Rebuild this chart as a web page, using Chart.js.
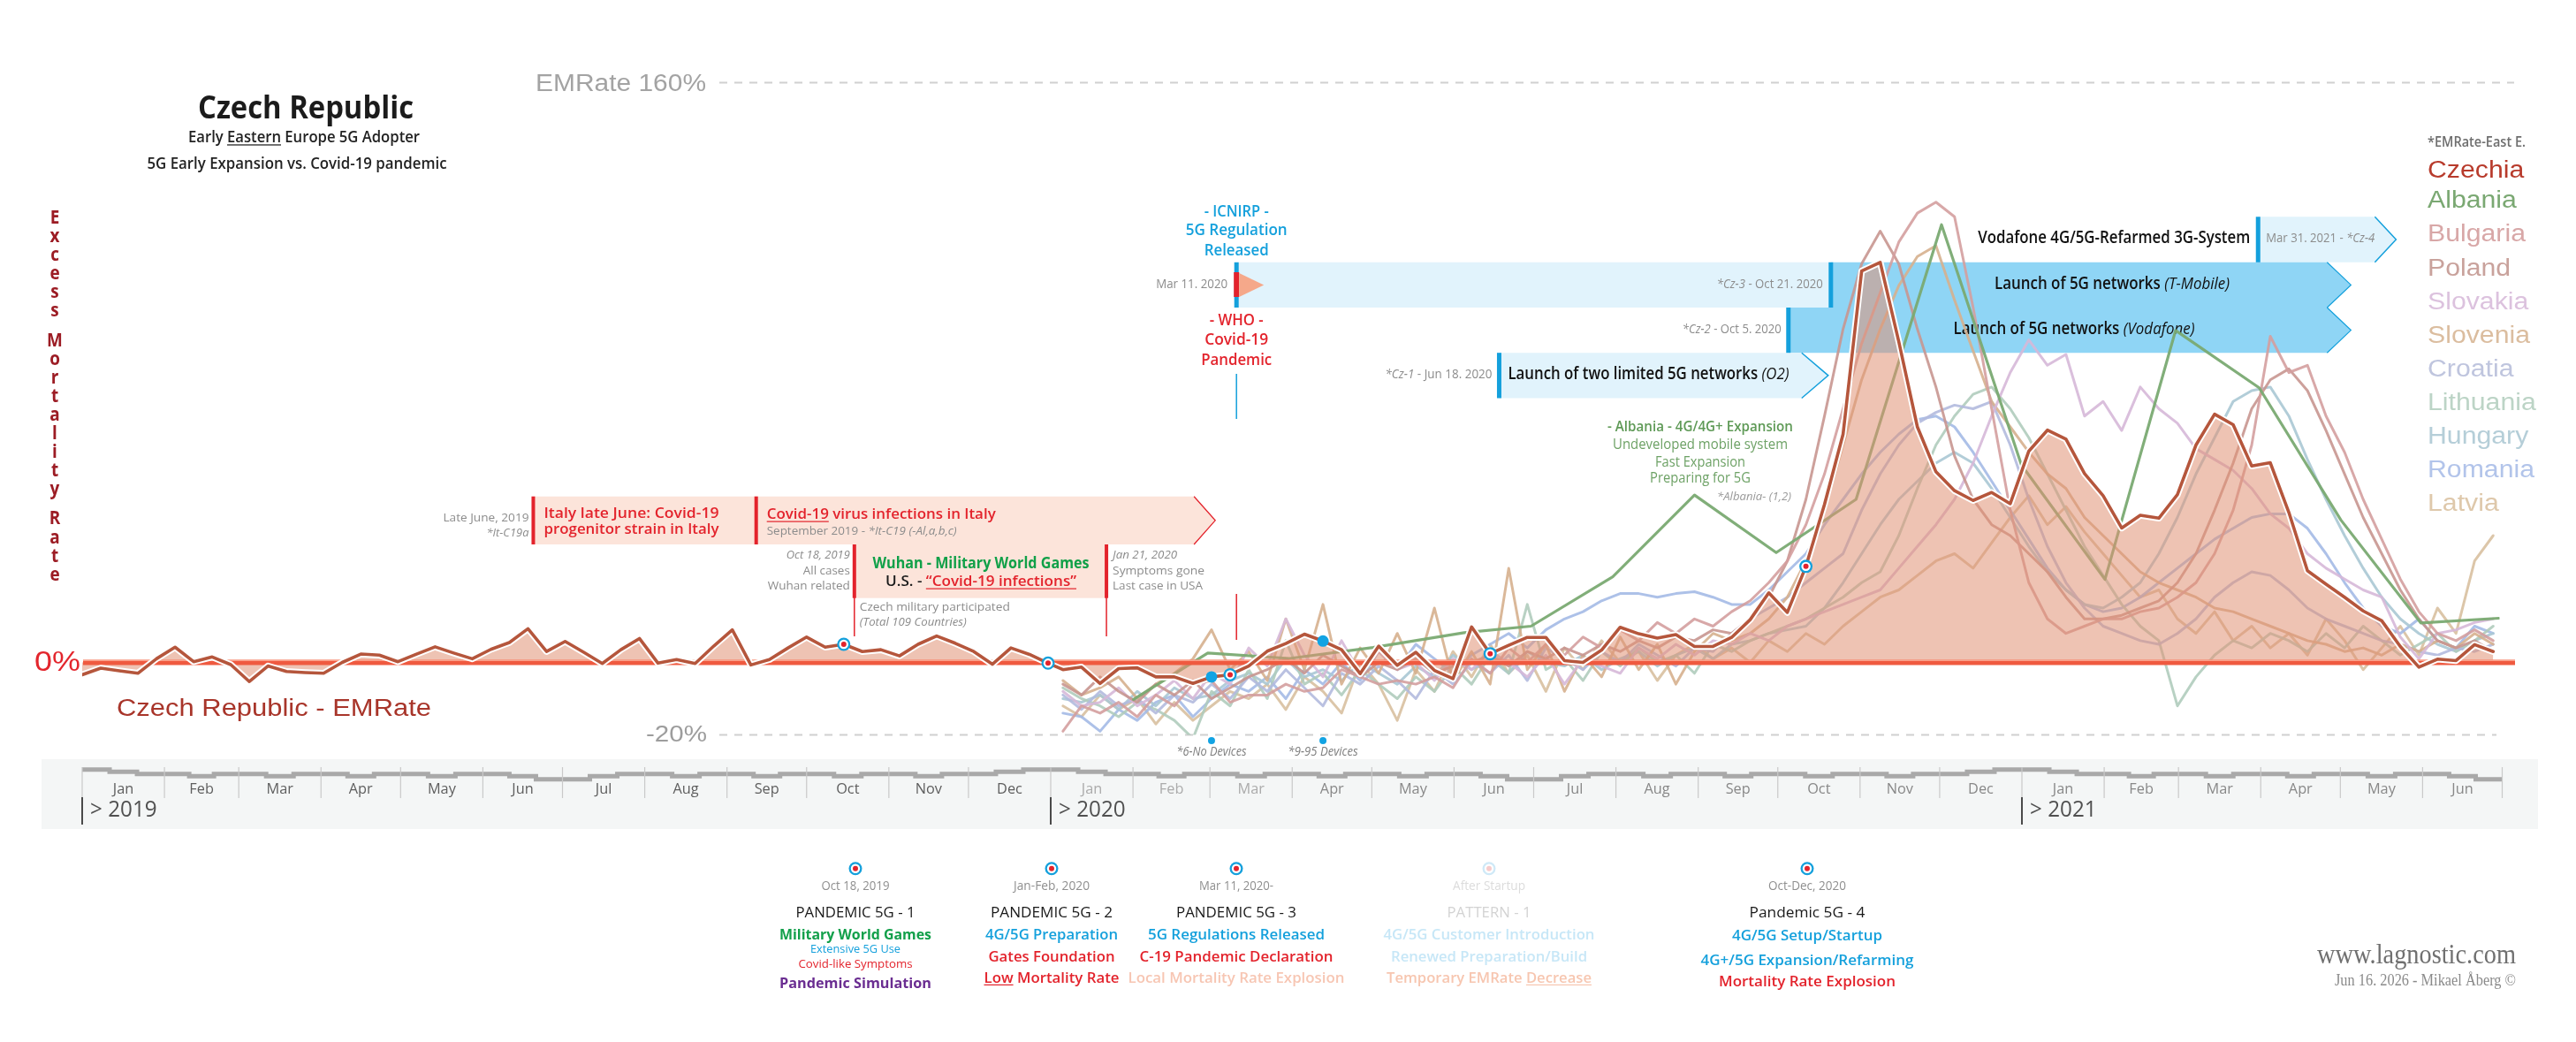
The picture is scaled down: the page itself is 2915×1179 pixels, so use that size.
<!DOCTYPE html>
<html>
<head>
<meta charset="utf-8">
<title>Czech Republic - EMRate</title>
<script src="https://cdn.jsdelivr.net/npm/chart.js@4.4.1/dist/chart.umd.min.js"></script>
<style>
  html, body { margin: 0; padding: 0; background: #ffffff; }
  #wrap { position: relative; width: 2915px; height: 1179px; }
</style>
</head>
<body>
<div id="wrap"><canvas id="emChart" width="2915" height="1179" style="width:2915px;height:1179px"></canvas></div>
<script>
// ---- data (excess mortality rate, %, weekly; x in weeks since Jan 1 2019) ----
const czechia2019 = [-3.4, -1.6, -2.3, -3, 1, 4.2, 0.2, 1.5, -0.6, -5.3,
    -1, -2.5, -2.8, -3, 0, 2.3, 2, 0.2, 2.3, 4.3,
    2.6, 1, 3.6, 5.5, 9.3, 3, 5.8, 2.8, -0.3, 3.5,
    6.6, -0.2, 0.8, -0.3, 4.5, 9, -0.7, 0.8, 4, 7,
    4.2, 5, 3, 3.5, 1.8, 5, 7.3, 5.3, 3, -0.5,
    4, 2.2, -0.2];

const weeks2020Start = 52.8;
const czechia2020 = [-2, -1.3, -5.8, -1.7, -1.5, -4, -4, -5.8, -4, -3.4,
    -1, 3.1, 5.2, 7.8, 5.9, 3.5, -3.1, 4.5, -0.8, 2.8,
    -2.2, -4.5, 9.8, 2.4, 4.7, 6.9, 6.9, 0.5, 0, 3.4,
    9.7, 7.9, 6.7, 7.7, 4.4, 4.4, 6.9, 11.8, 19.2, 13.8,
    26.5, 43.6, 63, 108, 110.4, 88.5, 65, 52.6, 47.4, 44.7,
    46.9, 43.8, 58.3, 64.1, 61.6, 52.1, 46, 37.1, 40.6, 39.8,
    46.3, 60, 68.5, 65.6, 54.2, 55.1, 41.4, 25.3, 21.6, 18,
    14.2, 11.5, 4.4, -1.3, 0.9, 0.5, 4.9, 3];

const albaniaWeeks = [56.6, 60.6, 65, 69.5, 74.4, 78, 82.4, 86.8, 91.2, 95.5, 100.1, 104.4, 108.9, 112.7, 117.2, 121.6, 125.9, 130.1];
const albaniaValues = [-10.2, 2.6, 1.1, 4.1, 8.2, 10, 23.6, 46.2, 30.3, 45, 120.8, 54.5, 22.9, 91.6, 75.8, 39.3, 10.9, 12.2];

const bulgaria = [-19, -12, -14, -11, -15, -9, -12, -6, -5, -11,
    -9, -9, -6, -8, -7, -2, -4, -6, -5, -6, -4, -7,
    1, -3, 4, 0, 5, 2, 7, 4, 9, 6, 11, 8, 12, 10,
    14, 17, 22, 28, 38, 52, 70, 88, 102, 116, 124, 127,
    123, 98, 70, 42, 22, 12, 8, 10, 12,
    12, 14, 15, 18, 22, 30, 42, 60, 90,
    80, 82, 68, 58, 45, 34, 23, 14, 8, 6, 9, 6];
const poland = [-6, -9, -4, -8, -11, -6, -9, -5, -10, -7,
    -4, -2, 1, -3, 2, -1, -4, 0, -2, 1, -3, -1,
    0, 2, -1, 3, 1, 4, 2, 5, 3, 6, 4, 7, 6, 9,
    8, 12, 18, 28, 45, 68, 92, 110, 119, 110, 92, 76,
    57, 45, 38, 35, 30, 25, 18, 12, 12,
    13, 15, 17, 22, 30, 42, 55, 70, 78,
    81, 75, 64, 52, 40, 30, 20, 12, 6, 4, 6, 3];
const slovakia = [-8, -12, -11, -7, -12, -9, -5, -10, -3, -6,
    4, -1, 12, 2, -4, 6, -3, 3, -2, 0, -5, 1,
    -2, 3, 0, -4, 2, -6, 1, -1, -3, 4, 1, 5, 2, 6,
    5, 8, 6, 10, 12, 14, 16, 18, 20, 26, 32, 38,
    45, 55, 68, 80, 89, 82, 85, 68, 72,
    64, 76, 70, 66, 59, 56, 53, 48, 41,
    37, 30, 26, 23, 20, 18, 7, 1, 8, 9, 11, 12];
const slovenia = [-5, -9, -7, -4, -10, -6, -3, 1, 9, -2,
    3, -5, 12, -2, 16, -6, 4, -3, 8, -3, 15, -5,
    3, -6, 26, -2, 5, -8, 2, -4, 7, -2, 5, -6, 3, 8,
    6, 8, 12, 18, 28, 42, 60, 78, 92, 104, 112, 115,
    100, 86, 72, 65, 58, 52, 48, 40, 35,
    30, 25, 22, 20, 18, 15, 14, 12, 10,
    8, 6, 5, 3, 4, 2, 5, 3, 6, 4, 8, 5];
const croatia = [-9, -13, -8, -12, -10, -14, -9, -11, -6, -10,
    -4, -8, -2, -7, -12, -3, -6, -1, -5, -10, -2, -6,
    0, -3, 2, -5, 4, 1, -2, 3, 0, 5, 2, -1, 4, 3,
    8, 12, 15, 18, 22, 26, 30, 42, 52, 60, 66, 69,
    71, 70, 72, 60, 45, 32, 22, 15, 10,
    8, 6, 5, 8, 12, 18, 22, 25, 24,
    20, 15, 12, 10, 8, 6, 5, 3, 2, 4, 3, 5];
const lithuania = [-7, -10, -12, -15, -11, -13, -16, -21, -8, -12,
    -2, -10, 6, -6, -3, -9, -2, -6, -10, -4, -8, -1,
    -6, 2, -3, 16, -2, 1, -5, 3, -1, 4, 0, 2, -3, 5,
    3, 6, 8, 10, 12, 15, 18, 22, 25, 35, 48, 60,
    68, 74, 76, 70, 62, 52, 42, 32, 24,
    16, 10, 6, -12, -4, 2, 6, 4, 8,
    6, 3, 8, 4, 10, 6, 2, 5, 8, 3, 6, 10];
const hungary = [-10, -11, -9, -13, -8, -12, -7, -10, -9, -5,
    -3, -6, 1, -4, -2, -5, 0, -3, -6, -1, -4, 2,
    -2, 1, -3, 3, 0, -1, 2, -2, 1, 3, -1, 2, 4, 1,
    5, 6, 8, 9, 10, 15, 22, 30, 38, 45, 50, 55,
    58, 55, 48, 40, 32, 25, 20, 16, 15,
    18, 22, 30, 40, 52, 62, 72, 75, 76,
    68, 56, 45, 35, 26, 18, 12, 8, 5, 3, 6, 8];
const romania = [-14, -15, -19, -13, -16, -11, -9, -15, -10, -6,
    -8, -4, -10, -2, -6, 0, -5, 3, -2, 5, 1, -3,
    2, 5, 8, 4, 9, 12, 14, 17, 19, 19, 18, 19, 19.5, 18,
    16, 16, 20, 25, 30, 38, 45, 52, 58, 63, 67, 68,
    65, 58, 50, 42, 34, 26, 20, 16, 14,
    15, 18, 22, 26, 30, 34, 37, 40, 41,
    41, 37, 30, 22, 15, 10, 8, 12, 6, 4, 10, 8];
const latvia = [-12, -15, -9, -13, -10, -17, -11, -16, -12, -8,
    -10, -6, -13, -4, -8, -14, 0, -6, -16, -2, -8, 3,
    -4, 5, -3, 2, -8, 4, -2, 6, 0, 3, -5, 2, 5, 1,
    4, 0, 6, 3, 8, 5, 10, 14, 18, 20, 24, 28,
    30, 26, 33, 40, 46, 38, 43, 36, 30,
    24, 18, 20, 12, 8, 14, 6, 10, 4,
    8, 2, 12, 6, -2, 4, 10, 2, 15, 8, 28, 35];

const legendNames = ['Czechia', 'Albania', 'Bulgaria', 'Poland', 'Slovakia', 'Slovenia', 'Croatia', 'Lithuania', 'Hungary', 'Romania', 'Latvia'];
const monthNames = ['Jan', 'Feb', 'Mar', 'Apr', 'May', 'Jun', 'Jul', 'Aug', 'Sep', 'Oct', 'Nov', 'Dec'];
const yearLabels = ['> 2019', '> 2020', '> 2021'];
const topTick = 'EMRate 160%';
const yRange = [-20, 160];

// step strip above the month labels: level at each month boundary and mid-month
const bandEdgeLevels = [0, 2, 2, 2, 2, 2, 4.4, 2, 2, 2, 2, 2, 0, 2, 2, 2, 2, 2, 4.4, 2, 2, 2, 2, 2, 0, 2, 2, 2, 2, 2, 4.4];
const bandMidLevels = [1, 3, 3, 3, 3, 3, 3, 3, 3, 3, 3, 1, 1, 3, 3, 3, 3, 3, 3, 3, 3, 3, 3, 1, 1, 3, 3, 3, 3, 3];

// indices into the combined Czech series
const targetMarkerIdx = [41, 52, 62, 76, 93];
const deviceDotIdx = [61, 67];
const deviceLabels = ['*6-No Devices', '*9-95 Devices'];

// ---- helpers ----
const SANS = '"Open Sans", "Noto Sans", sans-serif';
const ARIAL = '"Liberation Sans", Arial, sans-serif';
const SERIF = '"Liberation Serif", "DejaVu Serif", serif';
const RED = '#e3232c';
const BLUE = '#14a0dc';
const GRAY = '#8c8c8c';

function wk(y, m, d) {
    return (Date.UTC(y, m - 1, d) - Date.UTC(2019, 0, 1)) / 864e5 / 7;
}

function weekly(start, arr) {
    return arr.map((v, i) => ({ x: start + i, y: v }));
}

const czechPoints = weekly(0, czechia2019).concat(weekly(weeks2020Start, czechia2020));
const albaniaPoints = albaniaWeeks.map((w, i) => ({ x: w, y: albaniaValues[i] }));

// draw text runs, optionally squeezed to a target width
function txt(ctx, runs, x, y, o) {
    if (typeof runs === 'string') runs = [{ t: runs }];
    const size = o.size || 16;
    const fam = o.family || SANS;
    const fontOf = r => ((r.italic || o.italic) ? 'italic ' : '') + (r.weight || o.weight || 400) + ' ' + size + 'px ' + fam;
    let total = 0;
    runs.forEach(r => { ctx.font = fontOf(r); r._w = ctx.measureText(r.t).width; total += r._w; });
    const sx = o.w ? o.w / total : (o.sx || 0.84);
    const dw = total * sx;
    let x0 = x;
    if (o.align === 'center') x0 = x - dw / 2;
    else if (o.align === 'right') x0 = x - dw;
    ctx.save();
    ctx.translate(x0, y);
    ctx.scale(sx, 1);
    ctx.textAlign = 'left';
    ctx.textBaseline = o.baseline || 'alphabetic';
    let cx = 0;
    runs.forEach(r => {
        ctx.font = fontOf(r);
        ctx.fillStyle = r.color || o.color || '#222';
        ctx.fillText(r.t, cx, 0);
        if (r.underline) ctx.fillRect(cx, size * 0.13, r._w, Math.max(1.2, size * 0.07));
        cx += r._w;
    });
    ctx.restore();
}

function banner(ctx, x0, xb, xt, top, bot, fill, edge, edgeW) {
    const mid = (top + bot) / 2;
    ctx.beginPath();
    ctx.moveTo(x0, top);
    ctx.lineTo(xb, top);
    if (xt > xb) ctx.lineTo(xt, mid);
    ctx.lineTo(xb, bot);
    ctx.lineTo(x0, bot);
    ctx.closePath();
    ctx.fillStyle = fill;
    ctx.fill();
    if (edge && xt > xb) {
        ctx.beginPath();
        ctx.moveTo(xb, top);
        ctx.lineTo(xt, mid);
        ctx.lineTo(xb, bot);
        ctx.strokeStyle = edge;
        ctx.lineWidth = edgeW || 1.5;
        ctx.stroke();
    }
}

function target(ctx, x, y, pale) {
    ctx.beginPath(); ctx.arc(x, y, 7.5, 0, Math.PI * 2); ctx.fillStyle = pale ? '#cfe9f7' : BLUE; ctx.fill();
    ctx.beginPath(); ctx.arc(x, y, 5.2, 0, Math.PI * 2); ctx.fillStyle = '#ffffff'; ctx.fill();
    ctx.beginPath(); ctx.arc(x, y, 3, 0, Math.PI * 2); ctx.fillStyle = pale ? '#f6cccc' : RED; ctx.fill();
}

function drawBackground(chart) {
    const ctx = chart.ctx;
    const xs = chart.scales.x, ys = chart.scales.y;
    const X = w => xs.getPixelForValue(w);
    const XD = (y, m, d) => X(wk(y, m, d));
    const Y = v => ys.getPixelForValue(v);
    ctx.save();

    // title block
    txt(ctx, 'Czech Republic', 346, 134, { size: 36, weight: 700, w: 244, align: 'center', color: '#1b1b1b' });
    txt(ctx, [{ t: 'Early ' }, { t: 'Eastern', underline: true }, { t: ' Europe 5G Adopter' }], 344, 161,
        { size: 18, weight: 600, w: 262, align: 'center', color: '#222' });
    txt(ctx, '5G Early Expansion vs. Covid-19 pandemic', 336, 191, { size: 18, weight: 600, w: 339, align: 'center', color: '#222' });

    // vertical axis title, stacked letters
    const words = ['Excess', 'Mortality', 'Rate'];
    let ly = 247;
    words.forEach(wd => {
        for (const ch of wd) {
            txt(ctx, ch, 62, ly, { size: 21, weight: 700, sx: 0.9, align: 'center', baseline: 'middle', color: '#9c1c24' });
            ly += 21.1;
        }
        ly += 12;
    });

    // reference lines and their labels
    ctx.setLineDash([9, 8]);
    ctx.lineWidth = 2;
    ctx.strokeStyle = '#d0d0d0';
    ctx.beginPath(); ctx.moveTo(814, Y(yRange[1])); ctx.lineTo(2845, Y(yRange[1])); ctx.stroke();
    ctx.beginPath(); ctx.moveTo(814, Y(yRange[0])); ctx.lineTo(2825, Y(yRange[0])); ctx.stroke();
    ctx.setLineDash([]);
    txt(ctx, topTick, 606, 103, { size: 27, family: ARIAL, w: 193, color: '#a3a3a3' });
    txt(ctx, '0%', 39, 759, { size: 31, family: ARIAL, w: 52, color: '#e3262d' });
    txt(ctx, yRange[0] + '%', 731, 839, { size: 26, family: ARIAL, w: 69, color: '#9d9d9d' });
    txt(ctx, 'Czech Republic - EMRate', 132, 810, { size: 27, family: ARIAL, w: 356, color: '#a8352a' });

    // legend
    txt(ctx, '*EMRate-East E.', 2747, 166, { size: 16, weight: 600, w: 111, color: '#6e6e6e' });
    const legendBase = [201, 235, 273.3, 311.7, 350, 387.7, 426, 464, 502.3, 540, 578.3];
    const legendColors = ['#b83b2c', '#7aa872', '#d8a7a7', '#c9a29c', '#dcc2de', '#dbbd9f', '#bfc5de', '#bcd4c6', '#b5ced8', '#b2c4ea', '#dec8ab'];
    legendNames.forEach((n, i) => txt(ctx, n, 2747, legendBase[i], { size: 27, family: ARIAL, sx: 1.12, color: legendColors[i] }));

    // Italy / Wuhan banner
    const itA = XD(2019, 6, 20), itB = XD(2019, 9, 12), itEnd = XD(2020, 2, 24), itTip = XD(2020, 3, 3);
    const wuA = XD(2019, 10, 19), wuB = XD(2020, 1, 22);
    banner(ctx, itA, itEnd, itTip, 561.7, 616, '#fce4da', RED, 1.3);
    ctx.fillStyle = '#fce4da';
    ctx.fillRect(wuA, 615, wuB - wuA, 61.7);
    ctx.fillStyle = RED;
    ctx.fillRect(itA - 2, 561.7, 4, 54.3);
    ctx.fillRect(itB - 2, 561.7, 4, 54.3);
    ctx.fillRect(wuA - 2, 616, 4, 60.7);
    ctx.fillRect(wuB - 2, 616, 4, 60.7);
    ctx.fillRect(wuA - 0.75, 676, 1.5, 44);
    ctx.fillRect(wuB - 0.75, 676, 1.5, 44);
    ctx.fillRect(XD(2020, 3, 11) - 0.75, 672, 1.5, 52);

    txt(ctx, 'Late June, 2019', itA - 5, 590, { size: 13, w: 97, align: 'right', color: GRAY });
    txt(ctx, '*It-C19a', itA - 5, 607.3, { size: 13, italic: true, w: 48, align: 'right', color: GRAY });
    txt(ctx, 'Italy late June: Covid-19', itA + 12, 586, { size: 17, weight: 600, w: 198, color: RED });
    txt(ctx, 'progenitor strain in Italy', itA + 12, 604.3, { size: 17, weight: 600, w: 198, color: RED });
    txt(ctx, [{ t: 'Covid-19', underline: true }, { t: ' virus infections in Italy' }], itB + 12, 587.3, { size: 17, weight: 600, w: 259, color: RED });
    txt(ctx, [{ t: 'September 2019 - ' }, { t: '*It-C19 (-Al,a,b,c)', italic: true }], itB + 12, 605, { size: 13, w: 215, color: GRAY });
    txt(ctx, 'Oct 18, 2019', wuA - 5, 632.3, { size: 13, italic: true, w: 72, align: 'right', color: GRAY });
    txt(ctx, 'All cases', wuA - 5, 650, { size: 13, w: 53, align: 'right', color: GRAY });
    txt(ctx, 'Wuhan related', wuA - 5, 667.3, { size: 13, w: 93, align: 'right', color: GRAY });
    txt(ctx, 'Wuhan - Military World Games', 1110, 642.7, { size: 17, weight: 700, w: 245, align: 'center', color: '#10a048' });
    txt(ctx, [{ t: 'U.S. - ', color: '#1b1b1b' }, { t: '\u201CCovid-19 infections\u201D', color: RED, underline: true }], 1110, 663.3,
        { size: 17, weight: 600, w: 216, align: 'center' });
    txt(ctx, 'Jan 21, 2020', wuB + 7, 632.3, { size: 13, italic: true, w: 73, color: GRAY });
    txt(ctx, 'Symptoms gone', wuB + 7, 650, { size: 13, w: 104, color: GRAY });
    txt(ctx, 'Last case in USA', wuB + 7, 667.3, { size: 13, w: 102, color: GRAY });
    txt(ctx, 'Czech military participated', wuA + 6, 690.7, { size: 13, w: 170, color: GRAY });
    txt(ctx, '(Total 109 Countries)', wuA + 6, 708.3, { size: 13, italic: true, w: 121, color: GRAY });

    // 5G banners
    const LIGHT = '#e1f3fc', DARK = '#8fd5f5';
    const m11 = XD(2020, 3, 11), jun18 = XD(2020, 6, 18), oct5 = XD(2020, 10, 5), oct21 = XD(2020, 10, 21), mar31 = XD(2021, 3, 31);
    const rows = [[245.3, 296.8], [296.8, 348], [348, 399.2], [399.2, 450.5]];
    banner(ctx, mar31, XD(2021, 5, 14), XD(2021, 5, 22), rows[0][0], rows[0][1], LIGHT, BLUE, 1.5);
    banner(ctx, m11, oct21, oct21, rows[1][0], rows[1][1], LIGHT);
    banner(ctx, oct21, XD(2021, 4, 26), XD(2021, 5, 5), rows[1][0], rows[1][1], DARK, BLUE, 1.2);
    banner(ctx, oct5, XD(2021, 4, 26), XD(2021, 5, 5), rows[2][0], rows[2][1], DARK, BLUE, 1.2);
    banner(ctx, jun18, XD(2020, 10, 10), XD(2020, 10, 20), rows[3][0], rows[3][1], LIGHT, BLUE, 1.5);
    ctx.fillStyle = BLUE;
    ctx.fillRect(mar31 - 2.5, rows[0][0], 5, rows[0][1] - rows[0][0]);
    ctx.fillRect(m11 - 2.5, rows[1][0], 5, rows[1][1] - rows[1][0]);
    ctx.fillRect(oct21 - 2.5, rows[1][0], 5, rows[1][1] - rows[1][0]);
    ctx.fillRect(oct5 - 2.5, rows[2][0], 5, rows[2][1] - rows[2][0]);
    ctx.fillRect(jun18 - 2.5, rows[3][0], 5, rows[3][1] - rows[3][0]);
    ctx.fillRect(m11 - 0.75, 423, 1.5, 51);
    ctx.fillStyle = RED;
    ctx.fillRect(m11 - 3, 308, 6, 28);
    ctx.beginPath(); ctx.moveTo(m11 + 3, 309); ctx.lineTo(m11 + 31, 322.5); ctx.lineTo(m11 + 3, 336); ctx.closePath();
    ctx.fillStyle = '#f5a88a'; ctx.fill();

    txt(ctx, '- ICNIRP -', m11, 245, { size: 18, weight: 600, w: 73, align: 'center', color: BLUE });
    txt(ctx, '5G Regulation', m11, 266, { size: 18, weight: 600, w: 115, align: 'center', color: BLUE });
    txt(ctx, 'Released', m11, 289.3, { size: 18, weight: 600, w: 73, align: 'center', color: BLUE });
    txt(ctx, 'Mar 11. 2020', m11 - 10, 325.5, { size: 14, w: 81, align: 'right', color: GRAY });
    txt(ctx, '- WHO -', m11, 367.6, { size: 18, weight: 600, w: 61, align: 'center', color: RED });
    txt(ctx, 'Covid-19', m11, 390.3, { size: 18, weight: 600, w: 72, align: 'center', color: RED });
    txt(ctx, 'Pandemic', m11, 412.6, { size: 18, weight: 600, w: 80, align: 'center', color: RED });
    txt(ctx, [{ t: '*Cz-3', italic: true }, { t: ' - Oct 21. 2020' }], oct21 - 9, 325.5, { size: 14, w: 120, align: 'right', color: GRAY });
    txt(ctx, [{ t: '*Cz-2', italic: true }, { t: ' - Oct 5. 2020' }], oct5 - 8, 376.8, { size: 14, w: 112, align: 'right', color: GRAY });
    txt(ctx, [{ t: '*Cz-1', italic: true }, { t: ' - Jun 18. 2020' }], jun18 - 8, 428.2, { size: 14, w: 121, align: 'right', color: GRAY });
    txt(ctx, [{ t: 'Launch of two limited 5G networks ' }, { t: '(O2)', italic: true, weight: 400 }], jun18 + 10, 428.6,
        { size: 19, weight: 600, w: 318, color: '#111' });
    txt(ctx, [{ t: 'Launch of 5G networks ' }, { t: '(T-Mobile)', italic: true, weight: 400 }], 2390, 326.7,
        { size: 19, weight: 600, w: 266, align: 'center', color: '#111' });
    txt(ctx, [{ t: 'Launch of 5G networks ' }, { t: '(Vodafone)', italic: true, weight: 400 }], 2347, 378.2,
        { size: 19, weight: 600, w: 273, align: 'center', color: '#111' });
    txt(ctx, 'Vodafone 4G/5G-Refarmed 3G-System', mar31 - 9, 275.3, { size: 19, weight: 600, w: 308, align: 'right', color: '#111' });
    txt(ctx, [{ t: 'Mar 31. 2021 - ' }, { t: '*Cz-4', italic: true }], mar31 + 9, 274.4, { size: 14, w: 123, color: GRAY });

    // Albania note
    txt(ctx, '- Albania - 4G/4G+ Expansion', 1924, 488.4, { size: 17, weight: 600, w: 210, align: 'center', color: '#5f9a57' });
    txt(ctx, 'Undeveloped mobile system', 1924, 508.2, { size: 17, w: 198, align: 'center', color: '#6ea266' });
    txt(ctx, 'Fast Expansion', 1924, 527.6, { size: 17, w: 102, align: 'center', color: '#6ea266' });
    txt(ctx, 'Preparing for 5G', 1924, 546, { size: 17, w: 114, align: 'center', color: '#6ea266' });
    txt(ctx, '*Albania- (1,2)', 2027, 566.3, { size: 13, italic: true, w: 84, align: 'right', color: '#9a9a9a' });

    // month axis strip
    ctx.fillStyle = '#f4f6f6';
    ctx.fillRect(47, 859, 2825, 79);
    const starts = [];
    for (let m = 0; m <= 30; m++) starts.push(XD(2019 + Math.floor(m / 12), (m % 12) + 1, 1));
    const lvl = v => 870.8 + v * 2.5;
    ctx.beginPath();
    ctx.lineWidth = 5;
    ctx.strokeStyle = '#a9a9a9';
    let first = true;
    const seg = (a, b, y) => {
        if (first) { ctx.moveTo(a, y); first = false; } else ctx.lineTo(a, y);
        ctx.lineTo(b, y);
    };
    for (let m = 0; m < 30; m++) {
        const s = starts[m], len = starts[m + 1] - s;
        const prevEnd = m === 0 ? s : starts[m - 1] + (s - starts[m - 1]) * 2 / 3;
        seg(prevEnd, s + len / 3, lvl(bandEdgeLevels[m]));
        seg(s + len / 3, s + len * 2 / 3, lvl(bandMidLevels[m]));
    }
    seg(starts[29] + (starts[30] - starts[29]) * 2 / 3, starts[30], lvl(bandEdgeLevels[30]));
    ctx.stroke();

    for (let m = 0; m <= 30; m++) {
        const x = starts[m];
        ctx.fillStyle = '#c9c9c9';
        ctx.fillRect(x - 0.6, 868, 1.2, 35);
        if (m % 12 === 0 && m < 30) {
            ctx.fillStyle = '#4a4a4a';
            ctx.fillRect(x - 1, 902, 2, 31);
            txt(ctx, yearLabels[m / 12], x + 9, 924, { size: 25, sx: 0.97, color: '#505050' });
        }
        if (m < 30) {
            const c = m < 12 ? '#5e5e5e' : (m < 15 ? '#ababab' : '#888888');
            txt(ctx, monthNames[m % 12], (x + starts[m + 1]) / 2, 898, { size: 17, sx: 0.96, align: 'center', color: c });
        }
    }

    // phase notes under the axis
    const cols = [
        { x: 968, date: 'Oct 18, 2019', dw: 77, head: 'PANDEMIC 5G - 1', hw: 135, lines: [
            { r: 'Military World Games', y: 1062.7, s: 16, wt: 700, c: '#13a04b', w: 172 },
            { r: 'Extensive 5G Use', y: 1078.3, s: 13.5, wt: 400, c: BLUE, w: 102 },
            { r: 'Covid-like Symptoms', y: 1095, s: 13.5, wt: 400, c: RED, w: 129 },
            { r: 'Pandemic Simulation', y: 1118, s: 16, wt: 700, c: '#6a2d91', w: 172 }] },
        { x: 1190, date: 'Jan-Feb, 2020', dw: 86, head: 'PANDEMIC 5G - 2', hw: 138, lines: [
            { r: '4G/5G Preparation', y: 1063, s: 16, wt: 600, c: BLUE, w: 150 },
            { r: 'Gates Foundation', y: 1087.7, s: 16, wt: 600, c: RED, w: 143 },
            { r: [{ t: 'Low', underline: true }, { t: ' Mortality Rate' }], y: 1111.7, s: 16, wt: 600, c: RED, w: 153 }] },
        { x: 1399, date: 'Mar 11, 2020-', dw: 84, head: 'PANDEMIC 5G - 3', hw: 136, lines: [
            { r: '5G Regulations Released', y: 1063, s: 16, wt: 600, c: BLUE, w: 200 },
            { r: 'C-19 Pandemic Declaration', y: 1087.7, s: 16, wt: 600, c: RED, w: 219 },
            { r: 'Local Mortality Rate Explosion', y: 1111.7, s: 16, wt: 600, c: '#f7c6b3', w: 245 }] },
        { x: 1685, date: 'After Startup', dw: 82, head: 'PATTERN - 1', hw: 95, pale: true, lines: [
            { r: '4G/5G Customer Introduction', y: 1063, s: 16, wt: 600, c: '#c7e7f7', w: 239 },
            { r: 'Renewed Preparation/Build', y: 1087.7, s: 16, wt: 600, c: '#c7e7f7', w: 222 },
            { r: [{ t: 'Temporary EMRate ' }, { t: 'Decrease', underline: true }], y: 1111.7, s: 16, wt: 600, c: '#f7c6b0', w: 232 }] },
        { x: 2045, date: 'Oct-Dec, 2020', dw: 88, head: 'Pandemic 5G - 4', hw: 131, lines: [
            { r: '4G/5G Setup/Startup', y: 1064.3, s: 16, wt: 600, c: BLUE, w: 170 },
            { r: '4G+/5G Expansion/Refarming', y: 1091.7, s: 16, wt: 600, c: BLUE, w: 241 },
            { r: 'Mortality Rate Explosion', y: 1115.7, s: 16, wt: 600, c: RED, w: 200 }] }
    ];
    cols.forEach(c => {
        target(ctx, c.x, 982.7, c.pale);
        txt(ctx, c.date, c.x, 1007, { size: 14, w: c.dw, align: 'center', color: c.pale ? '#dcdcdc' : '#8f8f8f' });
        txt(ctx, c.head, c.x, 1037.7, { size: 17, weight: 500, w: c.hw, align: 'center', color: c.pale ? '#d3d3d3' : '#1a1a1a' });
        c.lines.forEach(l => txt(ctx, l.r, c.x, l.y, { size: l.s, weight: l.wt, w: l.w, align: 'center', color: l.c }));
    });

    // signature
    txt(ctx, 'www.lagnostic.com', 2847, 1090, { size: 31, family: SERIF, w: 225, align: 'right', color: '#707070' });
    txt(ctx, 'Jun 16. 2026 - Mikael \u00C5berg \u00A9', 2847, 1115, { size: 18, family: SERIF, w: 205, align: 'right', color: '#8a8a8a' });

    ctx.restore();
}

function drawZeroBand(chart) {
    const ctx = chart.ctx;
    const y0 = chart.scales.y.getPixelForValue(0);
    ctx.save();
    ctx.fillStyle = '#ef5a40';
    ctx.fillRect(chart.chartArea.left + 1, y0 - 3, 2845 - chart.chartArea.left, 6);
    ctx.fillStyle = 'rgba(255,190,170,0.7)';
    ctx.fillRect(chart.chartArea.left + 1, y0 - 3, 2845 - chart.chartArea.left, 1.5);
    ctx.restore();
}

function drawMarkers(chart) {
    const ctx = chart.ctx;
    const xs = chart.scales.x, ys = chart.scales.y;
    ctx.save();
    targetMarkerIdx.forEach(i => target(ctx, xs.getPixelForValue(czechPoints[i].x), ys.getPixelForValue(czechPoints[i].y)));
    deviceDotIdx.forEach((i, k) => {
        const x = xs.getPixelForValue(czechPoints[i].x);
        ctx.fillStyle = '#12a3e3';
        ctx.beginPath(); ctx.arc(x, ys.getPixelForValue(czechPoints[i].y), 6.5, 0, Math.PI * 2); ctx.fill();
        ctx.beginPath(); ctx.arc(x, 838, 4, 0, Math.PI * 2); ctx.fill();
        txt(ctx, deviceLabels[k], x, 855, { size: 14, italic: true, w: 79, align: 'center', color: '#7d7d7d' });
    });
    ctx.restore();
}

const emPlugin = {
    id: 'emAnnotations',
    beforeDatasetsDraw(chart) { drawBackground(chart); },
    beforeDatasetDraw(chart, args) {
        if (chart.data.datasets[args.index].label === 'Czechia fill') drawZeroBand(chart);
    },
    afterDatasetsDraw(chart) { drawMarkers(chart); }
};

// ---- chart ----
const countryLines = [
    ['Bulgaria', bulgaria, 'rgba(212,158,158,0.9)'],
    ['Poland', poland, 'rgba(200,150,144,0.9)'],
    ['Slovakia', slovakia, 'rgba(214,184,216,0.9)'],
    ['Slovenia', slovenia, 'rgba(214,176,142,0.9)'],
    ['Croatia', croatia, 'rgba(178,186,222,0.9)'],
    ['Lithuania', lithuania, 'rgba(176,204,188,0.9)'],
    ['Hungary', hungary, 'rgba(170,200,212,0.9)'],
    ['Romania', romania, 'rgba(164,186,230,0.9)'],
    ['Latvia', latvia, 'rgba(216,192,160,0.9)']
];

const datasets = [
    { label: 'Czechia', data: czechPoints, borderColor: '#b5563c', borderWidth: 3.6, fill: false, order: 0 },
    { label: 'Czechia halo', data: czechPoints, borderColor: '#ffffff', borderWidth: 7.5, fill: false, order: 1 },
    { label: 'Czechia fill', data: czechPoints, borderWidth: 0, borderColor: 'rgba(0,0,0,0)', fill: 'origin',
      backgroundColor: 'rgba(224,146,116,0.55)', order: 2 },
    { label: 'Albania', data: albaniaPoints, borderColor: 'rgba(122,170,114,0.95)', borderWidth: 3.2, fill: false, order: 3 }
].concat(countryLines.map(c => ({
    label: c[0], data: weekly(weeks2020Start, c[1]), borderColor: c[2], borderWidth: 3, fill: false, order: 4
})));

new Chart(document.getElementById('emChart'), {
    type: 'line',
    data: { datasets: datasets },
    options: {
        responsive: false,
        animation: false,
        layout: { padding: { left: 93, right: 86.5, top: 93.5, bottom: 347.5 } },
        scales: {
            x: { type: 'linear', min: 0, max: 911 / 7, display: false },
            y: { min: yRange[0], max: yRange[1], display: false }
        },
        elements: {
            point: { radius: 0, hoverRadius: 0 },
            line: { tension: 0, borderJoinStyle: 'round', borderCapStyle: 'round' }
        },
        plugins: { legend: { display: false }, tooltip: { enabled: false } }
    },
    plugins: [emPlugin]
});
</script>
</body>
</html>
